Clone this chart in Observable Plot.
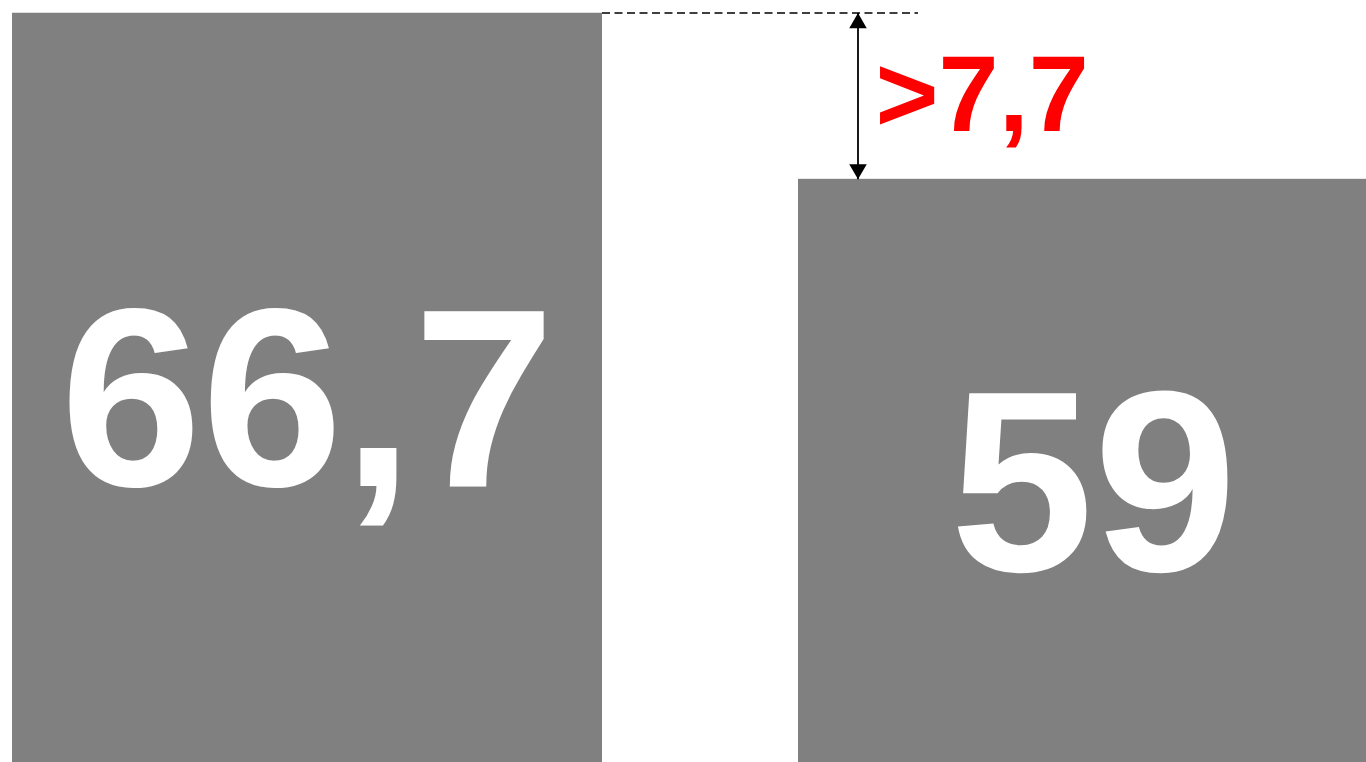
<!DOCTYPE html>
<html>
<head>
<meta charset="utf-8">
<script src="https://cdn.jsdelivr.net/npm/d3@7"></script>
<script src="https://cdn.jsdelivr.net/npm/@observablehq/plot@0.6"></script>
<style>
  html, body { margin: 0; padding: 0; background: #fff; overflow: hidden; }
  #chart { width: 1366px; height: 762px; overflow: hidden; }
</style>
</head>
<body>
<div id="chart"></div>
<script>
// ---- data ----
const categories = ["Bar 1", "Bar 2"];
const values = [66.7, 59];
const axisFloor = 30.4;          // value at which the bars start (below visible area)
const visibleMin = 32;           // lowest value visible at the bottom edge
const gapPrefix = ">";

const fmt = v => String(v).replace(".", ",");
const rows = categories.map((c, i) => ({category: c, value: values[i], label: fmt(values[i])}));
const hi = d3.max(values), lo = d3.min(values);
const gapLabel = gapPrefix + fmt(+(hi - lo).toFixed(1));
const loCat = categories[values.indexOf(lo)];

const font = "'Liberation Sans', Arial, Helvetica, sans-serif";

const chart = Plot.plot({
  width: 1366,
  height: 762,
  marginLeft: 11,
  marginRight: 0,
  marginTop: 12.5,
  marginBottom: 0,
  style: {background: "#fff", fontFamily: font},
  x: {domain: categories, range: [11, 1389], paddingInner: 0.249, paddingOuter: 0, axis: null},
  y: {domain: [visibleMin, hi], range: [762, 12.5], axis: null},
  marks: [
    Plot.barY(rows, {x: "category", y1: () => axisFloor, y2: "value", fill: "#808080", clip: true}),
    Plot.text(rows, {
      x: "category",
      y: d => (d.value + axisFloor) / 2,
      text: "label",
      fill: "#fff",
      fontWeight: "bold",
      fontSize: (d, i) => i === 0 ? 254 : 258,
      fontFamily: font,
      lineAnchor: "middle"
    }),
    // dashed reference line at the higher value
    Plot.ruleY([hi], {stroke: "#000", strokeWidth: 1.3, strokeDasharray: "8,4.5", insetLeft: 591, insetRight: 448}),
    // double-headed arrow showing the difference
    Plot.link([{a: hi, b: lo}], {x1: () => loCat, x2: () => loCat, y1: "a", y2: "b", stroke: "#000", strokeWidth: 1.8, dx: -235.5}),
    Plot.dot([hi], {x: () => loCat, y: d => d, symbol: "triangle", r: 6.5, fill: "#000", stroke: "none", dx: -235.5, dy: 10.1}),
    Plot.dot([lo], {x: () => loCat, y: d => d, symbol: "triangle", r: 6.5, fill: "#000", stroke: "none", rotate: 180, dx: -235.5, dy: -10.1}),
    Plot.text([gapLabel], {
      x: () => loCat,
      y: () => (hi + lo) / 2,
      text: d => d,
      fill: "#ff0000",
      fontWeight: "bold",
      fontSize: 108,
      fontFamily: font,
      textAnchor: "start",
      lineAnchor: "middle",
      dx: -218
    })
  ]
});
document.getElementById("chart").appendChild(chart);
</script>
</body>
</html>
